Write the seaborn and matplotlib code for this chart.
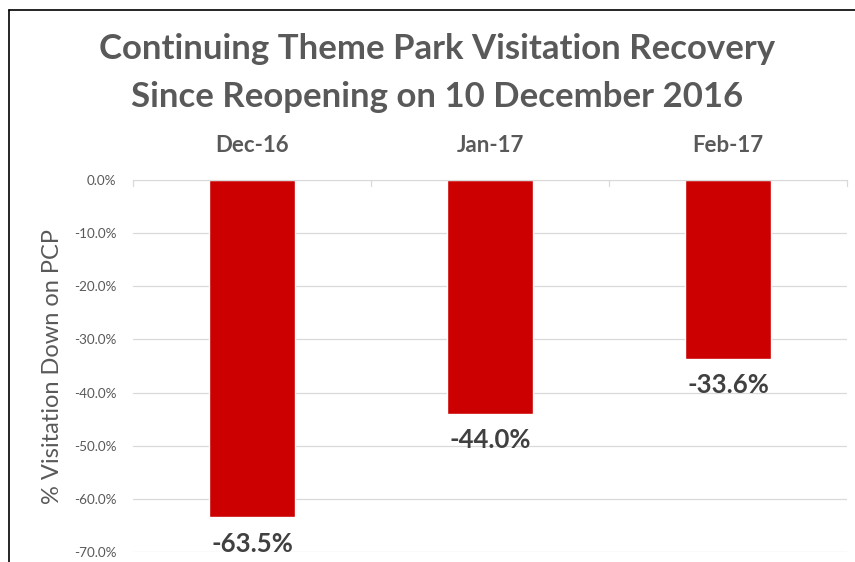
import numpy as np
import pandas as pd
import matplotlib
matplotlib.use('Agg')
import matplotlib.pyplot as plt
import seaborn as sns
from matplotlib.ticker import FuncFormatter
from matplotlib.lines import Line2D

# Data
months = ['Dec-16', 'Jan-17', 'Feb-17']
pct_down = [-63.5, -44.0, -33.6]
y_ticks = [0, -10, -20, -30, -40, -50, -60, -70]

df = pd.DataFrame({'month': months, 'pct': pct_down})

sns.set_style('white')
plt.rcParams['font.family'] = ['Lato', 'DejaVu Sans']

fig = plt.figure(figsize=(8.55, 5.62), dpi=100)
ax = fig.add_axes([0.1556, 0.0178, 0.835, 0.6619])

sns.barplot(data=df, x='month', y='pct', color='#cc0000', saturation=1,
            width=0.365, ax=ax)

ax.set_xlim(-0.5, len(months) - 0.5)
ax.set_ylim(-70, 0)
ax.set_yticks(y_ticks)
ax.yaxis.set_major_formatter(FuncFormatter(lambda v, p: f'{v:.1f}%'))
ax.tick_params(axis='y', labelsize=9.7, colors='#595959', length=0, pad=12)
ax.grid(axis='y', color='#d9d9d9', linewidth=0.9)
ax.set_axisbelow(True)

ax.xaxis.tick_top()
ax.tick_params(axis='x', labelsize=16, colors='#595959', length=0, pad=17)
for lbl in ax.get_xticklabels():
    lbl.set_fontweight('bold')
ax.set_xlabel('')

ax.set_ylabel('% Visitation Down on PCP', fontsize=17, color='#595959', labelpad=8)

for s in ['left', 'right', 'bottom']:
    ax.spines[s].set_visible(False)
ax.spines['top'].set_color('#d9d9d9')

# small category boundary ticks on top axis
for xb in [-0.5, 0.5, 1.5, 2.5]:
    ax.plot([xb, xb], [0, -1.1], color='#d9d9d9', linewidth=0.9, clip_on=False)

# data labels under bars
for i, v in enumerate(pct_down):
    ax.annotate(f'{v:.1f}%', xy=(i, v), xytext=(0, -19), textcoords='offset points',
                ha='center', va='center', fontsize=18.5, fontweight='bold', color='#404040')

fig.text(0.511, 0.87, 'Continuing Theme Park Visitation Recovery\nSince Reopening on 10 December 2016',
         ha='center', va='center', fontsize=25, fontweight='bold', color='#595959',
         linespacing=1.62)

# outer frame lines (top and left)
fig.add_artist(Line2D([9 / 855, 1.0], [1 - 10 / 562, 1 - 10 / 562], color='black', linewidth=1.2))
fig.add_artist(Line2D([9 / 855, 9 / 855], [0, 1 - 10 / 562], color='black', linewidth=1.2))

fig.savefig('out.png', dpi=100)
